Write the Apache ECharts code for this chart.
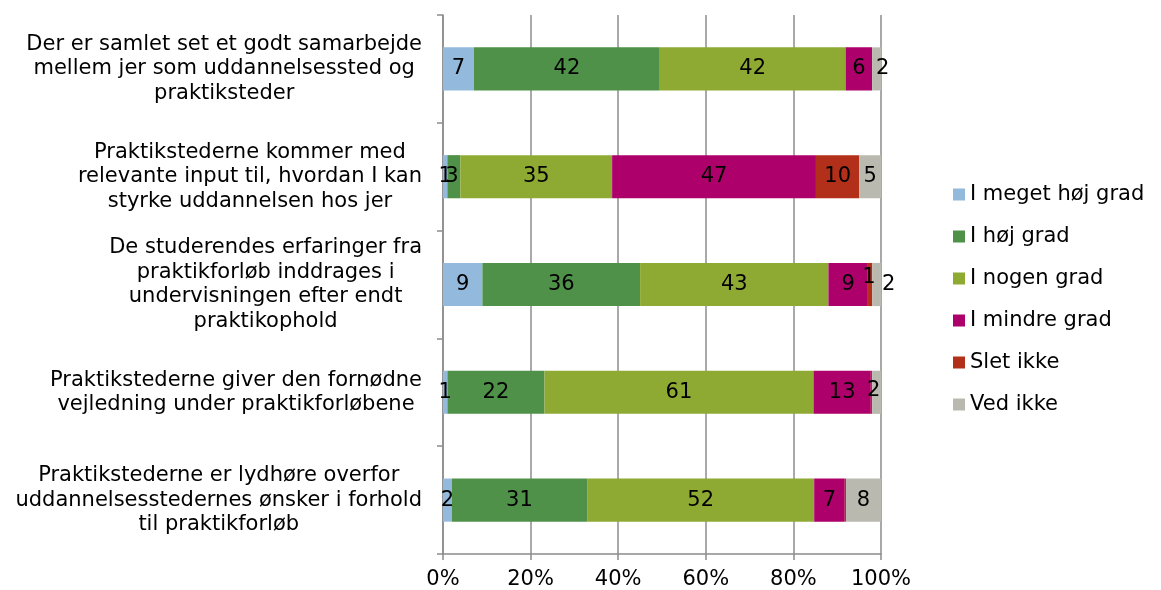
<!DOCTYPE html>
<html><head><meta charset="utf-8">
<script src="https://cdn.jsdelivr.net/npm/echarts@6/dist/echarts.min.js"></script>
<style>html,body{margin:0;padding:0;background:#fff}#c{width:1161px;height:590px}</style>
</head><body><div id="c"></div>
<script>
const categories = [
  "Der er samlet set et godt samarbejde\nmellem jer som uddannelsessted og\npraktiksteder",
  "Praktikstederne kommer med\nrelevante input til, hvordan I kan\nstyrke uddannelsen hos jer",
  "De studerendes erfaringer fra\npraktikforløb inddrages i\nundervisningen efter endt\npraktikophold",
  "Praktikstederne giver den fornødne\nvejledning under praktikforløbene",
  "Praktikstederne er lydhøre overfor\nuddannelsesstedernes ønsker i forhold\ntil praktikforløb"
];
const seriesNames = ["I meget høj grad","I høj grad","I nogen grad","I mindre grad","Slet ikke","Ved ikke"];
const megetHoej = [7, 1, 9, 1, 2];
const hoej      = [42, 3, 36, 22, 31];
const nogen     = [42, 35, 43, 61, 52];
const mindre    = [6, 47, 9, 13, 7];
const sletIkke  = [0, 10, 1, 0.3, 0.3];
const vedIkke   = [2, 5, 2, 2, 8];
const xTicks = [0, 20, 40, 60, 80, 100];

const colors = ["#93B9DD","#4F9148","#8FAA33","#AE006B","#B2301A","#BAB9B0"];
const allSeries = [megetHoej, hoej, nogen, mindre, sletIkke, vedIkke];
const rowTotals = categories.map((_, i) => allSeries.reduce((s, a) => s + a[i], 0));
const FONT = "DejaVu Sans";
const FS = 21;

const chart = echarts.init(document.getElementById('c'), null, {renderer:'canvas'});
chart.setOption({
  animation: false,
  textStyle: {fontFamily: FONT},
  grid: {left: 443, right: 280, top: 15, bottom: 35, containLabel: false},
  legend: {
    orient: 'vertical', left: 948, top: 179,
    itemWidth: 12, itemHeight: 12, itemGap: 21,
    icon: 'rect',
    textStyle: {fontSize: FS, color: '#000', fontFamily: FONT},
    data: seriesNames
  },
  xAxis: {
    type: 'value', min: 0, max: 100, interval: 20,
    axisLine: {show: true, lineStyle: {color: '#8c8c8c', width: 1.5}},
    axisTick: {show: true, length: 6, lineStyle: {color: '#8c8c8c', width: 1.5}},
    splitLine: {show: true, lineStyle: {color: '#8c8c8c', width: 1.5}},
    axisLabel: {fontSize: FS, color: '#000', margin: 15, fontFamily: FONT,
      formatter: v => xTicks.includes(v) ? v + '%' : ''}
  },
  yAxis: {
    type: 'category', inverse: true, data: categories,
    axisLine: {show: true, lineStyle: {color: '#8c8c8c', width: 1.5}},
    axisTick: {show: true, length: 6, lineStyle: {color: '#8c8c8c', width: 1.5}},
    axisLabel: {
      margin: 21, align: 'right', fontSize: FS, color: '#000', fontFamily: FONT,
      formatter: v => v.split('\n').map(l => '{c|' + l + '}').join('\n'),
      rich: {c: {align: 'center', fontSize: FS, lineHeight: 24.5, color: '#000', fontFamily: FONT}}
    }
  },
  series: allSeries.map((arr, si) => ({
    name: seriesNames[si], type: 'bar', stack: 'total', barWidth: '40%',
    itemStyle: {color: colors[si]},
    label: {
      show: true, position: 'inside', color: '#000', fontSize: FS, fontFamily: FONT,
      formatter: p => arr[p.dataIndex] >= 0.5 ? String(Math.round(arr[p.dataIndex])) : ''
    },
    data: arr.map((v, i) => {
      const item = {value: v / rowTotals[i] * 100};
      if (si === 4 && i === 2) item.label = {offset: [-1, -7]};
      if (si === 5 && i === 2) item.label = {offset: [12, 0]};
      if (si === 5 && i === 0) item.label = {offset: [6, 0]};
      if (si === 5 && i === 3) item.label = {offset: [-3, -2]};
      if (si === 1 && i === 1) item.label = {offset: [-2, 0]};
      return item;
    })
  }))
});
</script></body></html>
